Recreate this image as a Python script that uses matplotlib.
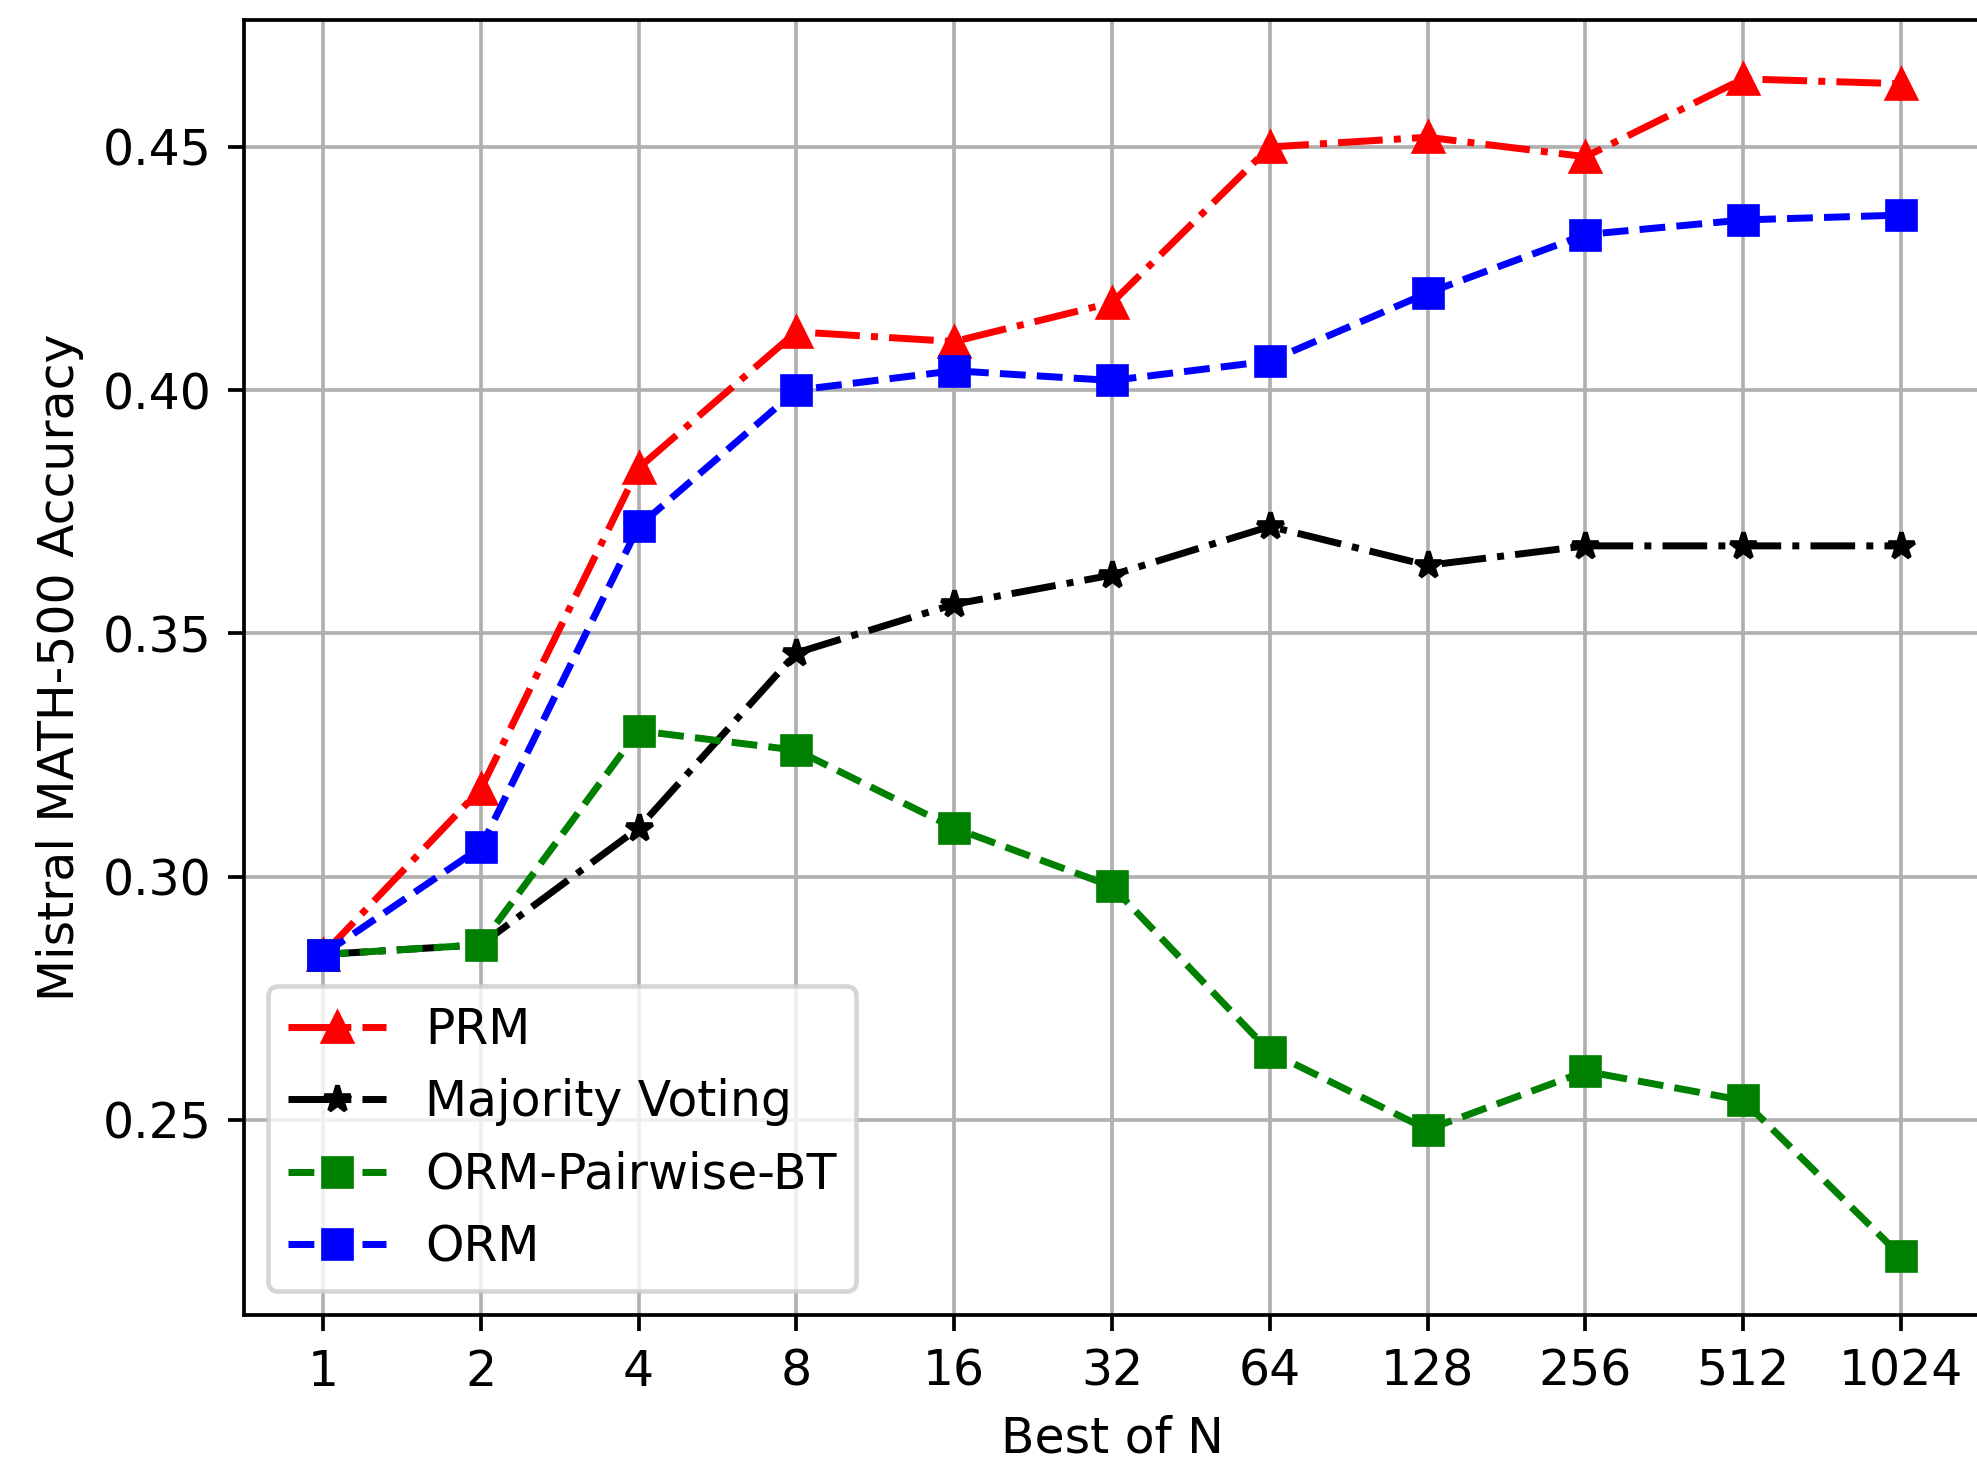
import matplotlib
matplotlib.use("Agg")
import matplotlib.pyplot as plt
from matplotlib.ticker import NullLocator

N = [1, 2, 4, 8, 16, 32, 64, 128, 256, 512, 1024]
prm = [0.284, 0.318, 0.384, 0.412, 0.410, 0.418, 0.450, 0.452, 0.448, 0.464, 0.463]
majority = [0.284, 0.286, 0.310, 0.346, 0.356, 0.362, 0.372, 0.364, 0.368, 0.368, 0.368]
orm_pairwise = [0.284, 0.286, 0.330, 0.326, 0.310, 0.298, 0.264, 0.248, 0.260, 0.254, 0.222]
orm = [0.284, 0.306, 0.372, 0.400, 0.404, 0.402, 0.406, 0.420, 0.432, 0.435, 0.436]
tick_labels = [str(n) for n in N]

plt.rcParams["font.size"] = 10.5

DPI = 335
fig = plt.figure(figsize=(1977 / DPI, 1464 / DPI), dpi=DPI)
ax = fig.add_axes([244 / 1977, 1 - 1315 / 1464, (1980 - 244) / 1977, (1315 - 20) / 1464])

ax.plot(N, prm, color="red", linestyle="-.", marker="^", label="PRM")
ax.plot(N, majority, color="black", linestyle="-.", marker="*", label="Majority Voting")
ax.plot(N, orm_pairwise, color="green", linestyle="--", marker="s", label="ORM-Pairwise-BT")
ax.plot(N, orm, color="blue", linestyle="--", marker="s", label="ORM")

ax.set_xscale("log", base=2)
ax.set_xticks(N)
ax.set_xticklabels(tick_labels)
ax.xaxis.set_minor_locator(NullLocator())
ax.set_yticks([0.25, 0.30, 0.35, 0.40, 0.45])
ax.set_xlabel("Best of N")
ax.set_ylabel("Mistral MATH-500 Accuracy")
ax.grid(True)
ax.legend(loc="lower left")

fig.savefig("out.png", dpi=DPI)
